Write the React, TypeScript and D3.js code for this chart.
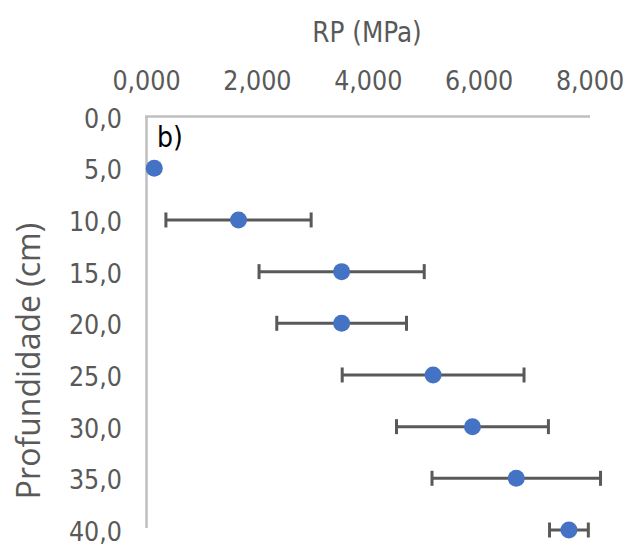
import React from 'react';
import * as d3 from 'd3';

// Profundidade (cm) vs RP (MPa), painel b)
const depths = [5, 10, 15, 20, 25, 30, 35, 40];
const rpMeans = [0.14, 1.66, 3.52, 3.52, 5.17, 5.88, 6.67, 7.62];
const rpErrors = [0, 1.31, 1.49, 1.17, 1.64, 1.37, 1.52, 0.35];
const xTicks = [0, 2, 4, 6, 8];
const yTicks = [0, 5, 10, 15, 20, 25, 30, 35, 40];

const width = 639;
const height = 550;
const tickFont = "'DejaVu Sans Condensed', sans-serif";

const App = () => {
    const x = d3.scaleLinear().domain([0, 8]).range([146.5, 590]);
    const y = d3.scaleLinear().domain([0, 40]).range([116.6, 530]);

    const fmtX = (v: number) => d3.format('.3f')(v).replace('.', ',');
    const fmtY = (v: number) => d3.format('.1f')(v).replace('.', ',');

    const cap = 7.5;

    return (
        <svg width={width} height={height}
             style={{position: 'absolute', left: 0, top: 0, background: '#fff'}}>
            {/* axis titles */}
            <text x={367} y={42} textAnchor="middle" fill="#595959"
                  fontFamily={tickFont} fontSize={27.5}>RP (MPa)</text>
            <text transform="translate(40, 361) rotate(-90)" textAnchor="middle" fill="#595959"
                  fontFamily="'Open Sans', sans-serif" fontSize={32}>Profundidade (cm)</text>

            {/* x tick labels (top) */}
            {xTicks.map(t => (
                <text key={t} x={x(t)} y={90} textAnchor="middle" fill="#595959"
                      fontFamily={tickFont} fontSize={26.5}>{fmtX(t)}</text>
            ))}

            {/* y tick labels */}
            {yTicks.map(t => (
                <text key={t} x={122} y={y(t) + 11} textAnchor="end" fill="#595959"
                      fontFamily={tickFont} fontSize={26.5}>{fmtY(t)}</text>
            ))}

            {/* axis lines */}
            <line x1={x(0) - 1.5} x2={x(8)} y1={y(0)} y2={y(0)} stroke="#BFBFBF" strokeWidth={2.5}/>
            <line x1={x(0)} x2={x(0)} y1={y(0)} y2={y(40) - 2} stroke="#BFBFBF" strokeWidth={2.5}/>

            <text x={157} y={147} fill="#000" fontFamily={tickFont} fontSize={28}>b)</text>

            {/* error bars */}
            {depths.map((d, i) => rpErrors[i] > 0 && (
                <g key={'e' + d} stroke="#595959" strokeWidth={3}>
                    <line x1={x(rpMeans[i] - rpErrors[i])} x2={x(rpMeans[i] + rpErrors[i])}
                          y1={y(d)} y2={y(d)}/>
                    <line x1={x(rpMeans[i] - rpErrors[i])} x2={x(rpMeans[i] - rpErrors[i])}
                          y1={y(d) - cap} y2={y(d) + cap}/>
                    <line x1={x(rpMeans[i] + rpErrors[i])} x2={x(rpMeans[i] + rpErrors[i])}
                          y1={y(d) - cap} y2={y(d) + cap}/>
                </g>
            ))}

            {/* points */}
            {depths.map((d, i) => (
                <circle key={'p' + d} cx={x(rpMeans[i])} cy={y(d)} r={8.5} fill="#4472C4"/>
            ))}
        </svg>
    );
};

export default App;
